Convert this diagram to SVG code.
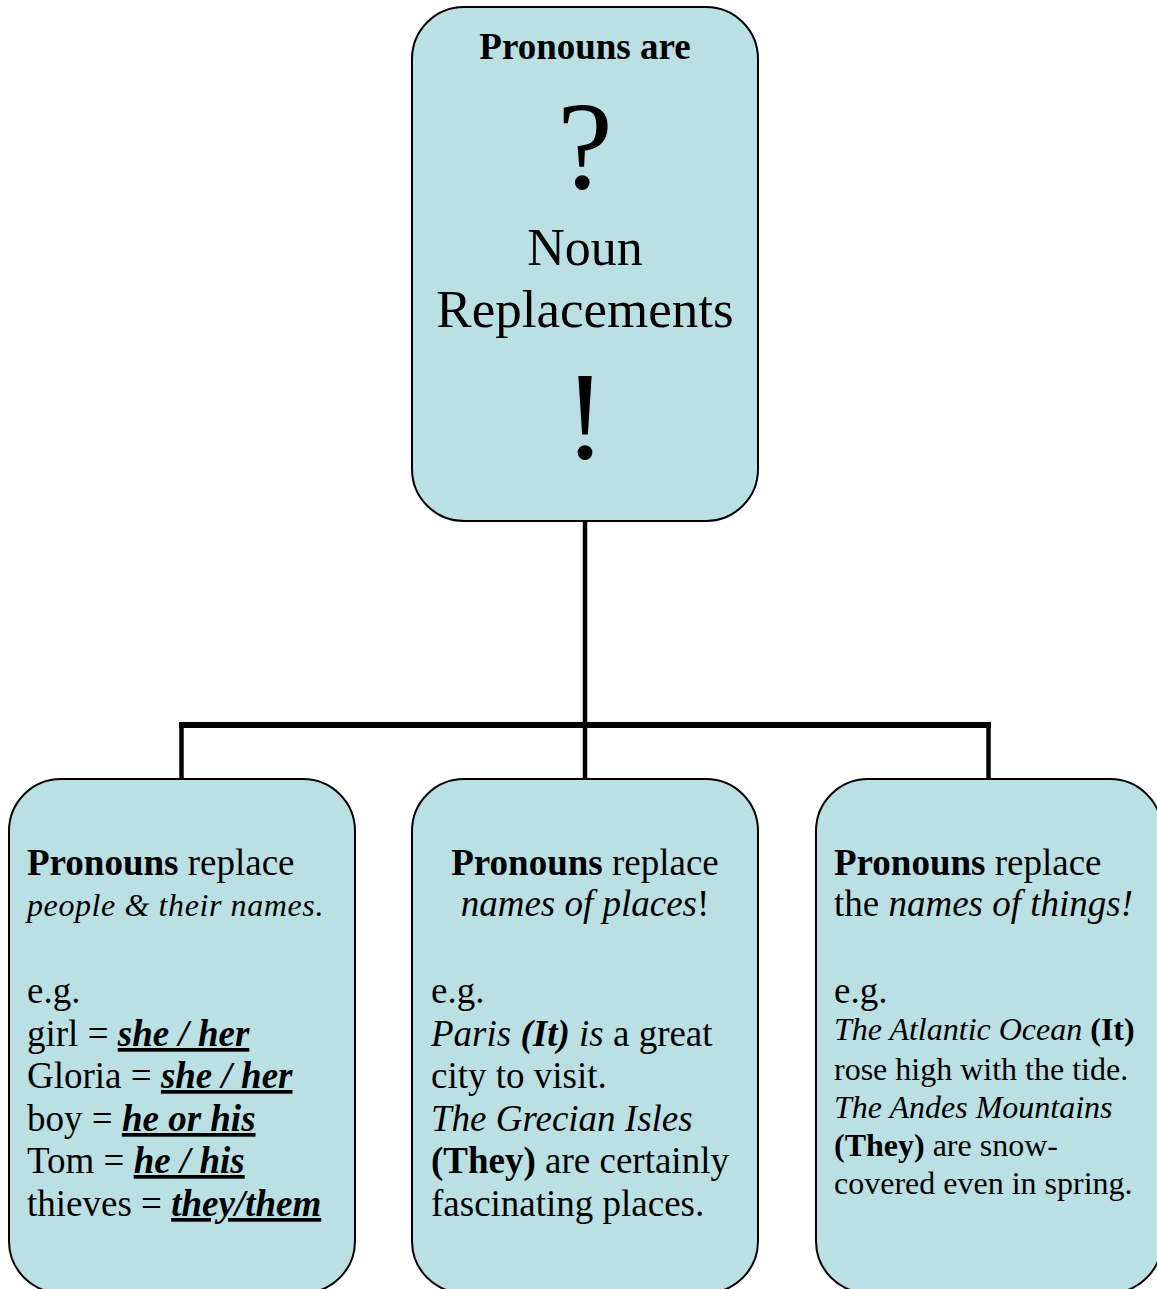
<svg xmlns="http://www.w3.org/2000/svg" width="1157" height="1289" viewBox="0 0 1157 1289">
<style>
.box{fill:#BBE0E3;stroke:#000;stroke-width:2}
.t{font-family:"Liberation Serif","Times New Roman",serif;fill:#000}
.b{font-weight:bold}
.i{font-style:italic}
.u{text-decoration:underline}
.conn{stroke:#000;fill:none}
</style>
<rect width="1157" height="1289" fill="#fff"/>
<g id="connectors">
<line class="conn" x1="585" y1="521" x2="585" y2="725" stroke-width="4.5"/>
<line class="conn" x1="179" y1="725" x2="991" y2="725" stroke-width="6"/>
<line class="conn" x1="181.5" y1="725" x2="181.5" y2="779" stroke-width="4.5"/>
<line class="conn" x1="585" y1="725" x2="585" y2="779" stroke-width="4.5"/>
<line class="conn" x1="988.5" y1="725" x2="988.5" y2="779" stroke-width="4.5"/>
</g>
<g id="top">
<rect class="box" x="412" y="7" width="346" height="514" rx="52" ry="52"/>
<text class="t b" x="585" y="59" font-size="37" text-anchor="middle">Pronouns are</text>
<text class="t" x="585" y="188" font-size="125" text-anchor="middle">?</text>
<text class="t" x="585" y="265" font-size="52" text-anchor="middle">Noun</text>
<text class="t" x="585" y="327" font-size="53" text-anchor="middle">Replacements</text>
<text class="t" x="585" y="458" font-size="125" text-anchor="middle">!</text>
</g>
<g id="people">
<rect class="box" x="9" y="779" width="346" height="514" rx="52" ry="52"/>
<text class="t" x="27" y="875" font-size="37" xml:space="preserve"><tspan class="b">Pronouns</tspan> replace</text>
<text class="t i" x="27" y="916" font-size="32" letter-spacing="0.6">people &amp; their names.</text>
<text class="t" x="27" y="1003" font-size="37">e.g.</text>
<text class="t" x="27" y="1046" font-size="37" xml:space="preserve">girl = <tspan class="b i u">she / her</tspan></text>
<text class="t" x="27" y="1088" font-size="37" xml:space="preserve">Gloria = <tspan class="b i u">she / her</tspan></text>
<text class="t" x="27" y="1131" font-size="37" xml:space="preserve">boy = <tspan class="b i u">he or his</tspan></text>
<text class="t" x="27" y="1173" font-size="37" xml:space="preserve">Tom = <tspan class="b i u">he / his</tspan></text>
<text class="t" x="27" y="1216" font-size="37" xml:space="preserve">thieves = <tspan class="b i u">they/them</tspan></text>
</g>
<g id="places">
<rect class="box" x="412" y="779" width="346" height="514" rx="52" ry="52"/>
<text class="t" x="585" y="875" font-size="37" text-anchor="middle" xml:space="preserve"><tspan class="b">Pronouns</tspan> replace</text>
<text class="t" x="585" y="916" font-size="37" text-anchor="middle"><tspan class="i">names of places</tspan>!</text>
<text class="t" x="431" y="1003" font-size="37">e.g.</text>
<text class="t" x="431" y="1046" font-size="37" xml:space="preserve"><tspan class="i">Paris </tspan><tspan class="b i">(It)</tspan><tspan class="i"> is</tspan> a great</text>
<text class="t" x="431" y="1088" font-size="37">city to visit.</text>
<text class="t i" x="431" y="1131" font-size="37">The Grecian Isles</text>
<text class="t" x="431" y="1173" font-size="37" xml:space="preserve"><tspan class="b">(They)</tspan> are certainly</text>
<text class="t" x="431" y="1216" font-size="37">fascinating places.</text>
</g>
<g id="things">
<rect class="box" x="816" y="779" width="346" height="514" rx="52" ry="52"/>
<text class="t" x="834" y="875" font-size="37" xml:space="preserve"><tspan class="b">Pronouns</tspan> replace</text>
<text class="t" x="834" y="916" font-size="37" xml:space="preserve">the <tspan class="i">names of things!</tspan></text>
<text class="t" x="834" y="1003" font-size="37">e.g.</text>
<text class="t" x="834" y="1040" font-size="32" xml:space="preserve"><tspan class="i">The Atlantic Ocean</tspan> <tspan class="b">(It)</tspan></text>
<text class="t" x="834" y="1080" font-size="32">rose high with the tide.</text>
<text class="t i" x="834" y="1118" font-size="32">The Andes Mountains</text>
<text class="t" x="834" y="1156" font-size="32" xml:space="preserve"><tspan class="b">(They)</tspan> are snow-</text>
<text class="t" x="834" y="1194" font-size="32">covered even in spring.</text>
</g>
</svg>
